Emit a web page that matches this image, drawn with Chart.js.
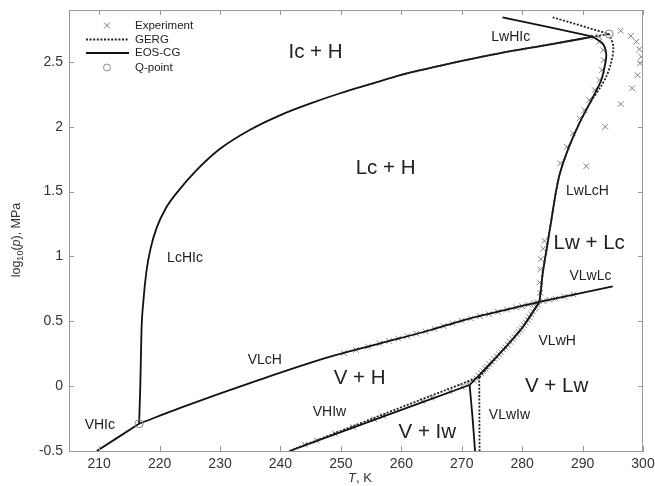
<!DOCTYPE html>
<html>
<head>
<meta charset="utf-8">
<script src="https://cdn.jsdelivr.net/npm/chart.js@4"></script>
<style>
  html, body { margin: 0; padding: 0; background: #fff; }
  #wrap { width: 655px; height: 486px; position: relative; }
</style>
</head>
<body>
<div id="wrap"><canvas id="phaseChart"></canvas></div>
<script>
// ---- axes ----
const xTicks = [210, 220, 230, 240, 250, 260, 270, 280, 290, 300];
const yTicks = [-0.5, 0, 0.5, 1, 1.5, 2, 2.5];

// ---- EOS-CG (solid) ----
const eosVHIcT = [209.6, 216.6];
const eosVHIcP = [-0.5, -0.29];
const eosLcHIcT = [216.6, 216.8, 217.0, 217.3, 217.8, 218.5, 219.5, 221.0, 223.0, 226.0, 230.0, 234.9, 240.0, 245.0, 250.0, 255.0, 260.0, 265.0, 270.0, 276.2, 284.0, 291.7];
const eosLcHIcP = [-0.29, 0.0, 0.43, 0.65, 0.88, 1.06, 1.22, 1.37, 1.50, 1.66, 1.83, 1.975, 2.09, 2.18, 2.26, 2.33, 2.40, 2.455, 2.507, 2.566, 2.63, 2.694];
const eosLwHIcT = [276.75, 291.7];
const eosLwHIcP = [2.844, 2.694];
const eosLwLcHT = [282.85, 283.1, 283.4, 284.1, 284.9, 285.6, 286.3, 287.8, 289.5, 291.4, 293.1, 293.8, 293.9, 293.3, 291.7];
const eosLwLcHP = [0.649, 0.74, 0.87, 1.07, 1.3, 1.5, 1.65, 1.85, 2.03, 2.2, 2.36, 2.5, 2.57, 2.643, 2.694];
const eosVLcHT = [216.6, 223.3, 236.6, 248.1, 256.4, 264.7, 270.2, 282.85];
const eosVLcHP = [-0.29, -0.17, 0.05, 0.225, 0.328, 0.431, 0.508, 0.649];
const eosVLwLcT = [282.85, 295.0];
const eosVLwLcP = [0.649, 0.77];
const eosVHIwT = [241.5, 256.4, 271.3];
const eosVHIwP = [-0.5, -0.245, 0.009];
const eosVLwHT = [271.3, 276.8, 280.1, 282.85];
const eosVLwHP = [0.009, 0.277, 0.456, 0.649];
const eosVLwIwT = [271.3, 271.8, 272.2];
const eosVLwIwP = [0.009, -0.25, -0.5];

// ---- GERG (dotted) ----
const gergLcHIcT = [260.0, 265.0, 270.0, 276.2, 284.0, 294.4];
const gergLcHIcP = [2.40, 2.455, 2.507, 2.566, 2.63, 2.715];
const gergLwHIcT = [285.05, 294.4];
const gergLwHIcP = [2.844, 2.715];
const gergLwLcHT = [282.85, 283.1, 283.4, 284.1, 284.9, 285.6, 286.3, 287.8, 289.5, 291.3, 293.0, 293.9, 294.7, 295.1, 294.4];
const gergLwLcHP = [0.649, 0.74, 0.87, 1.07, 1.3, 1.5, 1.65, 1.85, 2.03, 2.19, 2.308, 2.385, 2.489, 2.617, 2.715];
const gergVHIwT = [241.5, 256.4, 272.9];
const gergVHIwP = [-0.5, -0.228, 0.07];
const gergVLwHT = [272.9, 276.8, 280.1, 282.85];
const gergVLwHP = [0.07, 0.277, 0.456, 0.649];
const gergVLwIwT = [272.9, 272.95];
const gergVLwIwP = [0.07, -0.5];

// ---- Q-points ----
const qT = [216.6, 294.4];
const qP = [-0.29, 2.715];

// ---- Experiment ----
const expT = [
  244, 246, 249, 252, 255.5, 257, 263.5, 265, 268, 270, 271,
  250.5, 252.5, 254.5, 256.4, 258, 259.5, 261, 262.5, 264, 265.5, 267, 268.5, 270, 271.5, 273, 274.5, 276, 277.5, 279, 280, 281, 282, 282.5,
  272, 272.4, 272.8, 273.2, 273.5, 273.9, 274.2, 274.6, 275, 275.4, 275.8, 276.2, 276.5, 276.9, 277.2, 277.6, 278, 278.4, 278.7, 279.1, 279.4, 279.7, 280, 280.3, 280.6, 280.9, 281.2, 281.5, 281.8, 282.1, 282.3, 282.6,
  283.5, 284.5, 285.5, 287, 288.5,
  283.0, 282.9, 283.0, 283.1, 283.5, 283.7,
  286.3, 287.4, 288.4, 289.5, 290.3, 291.1, 292.0, 292.8, 293.2, 293.5, 293.4, 292.7, 291.9, 292.7,
  296.3, 298.0, 298.9, 299.4, 299.7, 299.5, 299.1, 298.2, 296.3, 293.75, 290.6
];
const expP = [
  -0.45, -0.42, -0.365, -0.315, -0.255, -0.23, -0.115, -0.09, -0.04, -0.005, 0.02,
  0.255, 0.28, 0.305, 0.33, 0.348, 0.367, 0.386, 0.404, 0.422, 0.442, 0.463, 0.484, 0.505, 0.522, 0.54, 0.556, 0.573, 0.59, 0.606, 0.617, 0.628, 0.64, 0.645,
  0.043, 0.06, 0.082, 0.1, 0.116, 0.135, 0.15, 0.17, 0.189, 0.21, 0.228, 0.245, 0.262, 0.282, 0.299, 0.32, 0.342, 0.363, 0.38, 0.402, 0.418, 0.434, 0.45, 0.47, 0.491, 0.512, 0.533, 0.554, 0.575, 0.596, 0.61, 0.63,
  0.655, 0.665, 0.675, 0.69, 0.705,
  0.72, 0.8, 0.9, 0.98, 1.06, 1.12,
  1.717, 1.845, 1.949, 2.064, 2.128, 2.206, 2.283, 2.36, 2.437, 2.514, 2.59, 2.655, 2.69, 2.695,
  2.74, 2.70, 2.656, 2.597, 2.54, 2.489, 2.398, 2.296, 2.175, 2.0, 1.696
];

// ---- annotations ----
const regionLabels = ['Ic + H', 'Lc + H', 'Lw + Lc', 'V + H', 'V + Lw', 'V + Iw'];
const regionT = [245.8, 257.4, 291.1, 253.1, 285.7, 264.3];
const regionP = [2.576, 1.68, 1.1, 0.06, 0.0, -0.36];
const lineLabels = ['LwHIc', 'LwLcH', 'LcHIc', 'VLwLc', 'VLwH', 'VLcH', 'VHIw', 'VLwIw', 'VHIc'];
const lineLabelT = [278.1, 290.8, 224.2, 291.3, 285.8, 237.4, 248.1, 277.9, 210.1];
const lineLabelP = [2.69, 1.5, 0.99, 0.85, 0.35, 0.2, -0.2, -0.22, -0.3];

const FONT = '"Liberation Sans", Arial, sans-serif';

function pts(T, P) {
    return T.map((t, i) => ({ x: t, y: P[i] }));
}

function solid(T, P, mode) {
    const ds = { data: pts(T, P), showLine: true, pointRadius: 0, borderColor: '#111', borderWidth: 1.8, tension: 0.3, order: 1 };
    if (mode) ds.cubicInterpolationMode = mode;
    return ds;
}

function dotted(T, P, mode) {
    const ds = { data: pts(T, P), showLine: true, pointRadius: 0, borderColor: '#222', borderWidth: 1.8, borderDash: [2, 1.6], tension: 0.3, order: 0 };
    if (mode) ds.cubicInterpolationMode = mode;
    return ds;
}

// Box, inward ticks, legend, labels and axis titles
const decorPlugin = {
    id: 'decor',
    afterDraw(chart) {
        const ctx = chart.ctx;
        const a = chart.chartArea;
        const xs = chart.scales.x, ys = chart.scales.y;
        ctx.save();
        ctx.strokeStyle = '#999';
        ctx.lineWidth = 1;
        ctx.beginPath();
        ctx.moveTo(a.left, a.top + 0.5); ctx.lineTo(a.right, a.top + 0.5);
        ctx.moveTo(a.right - 0.5, a.top); ctx.lineTo(a.right - 0.5, a.bottom);
        xTicks.forEach(v => {
            const px = Math.round(xs.getPixelForValue(v)) + 0.5;
            ctx.moveTo(px, a.bottom); ctx.lineTo(px, a.bottom - 5);
            ctx.moveTo(px, a.top); ctx.lineTo(px, a.top + 5);
        });
        yTicks.forEach(v => {
            const py = Math.round(ys.getPixelForValue(v)) + 0.5;
            ctx.moveTo(a.left, py); ctx.lineTo(a.left + 5, py);
            ctx.moveTo(a.right, py); ctx.lineTo(a.right - 5, py);
        });
        ctx.stroke();

        // legend
        ctx.fillStyle = '#222';
        ctx.font = '11.5px ' + FONT;
        ctx.textBaseline = 'middle';
        ctx.textAlign = 'left';
        const lx = 135;
        const items = ['Experiment', 'GERG', 'EOS-CG', 'Q-point'];
        const ly = [25.5, 39.5, 53, 67.5];
        items.forEach((t, i) => ctx.fillText(t, lx, ly[i]));
        ctx.strokeStyle = '#777';
        ctx.beginPath();
        ctx.moveTo(104, ly[0] - 3); ctx.lineTo(110, ly[0] + 3);
        ctx.moveTo(110, ly[0] - 3); ctx.lineTo(104, ly[0] + 3);
        ctx.stroke();
        ctx.strokeStyle = '#222';
        ctx.lineWidth = 1.8;
        ctx.setLineDash([2, 1.6]);
        ctx.beginPath(); ctx.moveTo(86, ly[1]); ctx.lineTo(129, ly[1]); ctx.stroke();
        ctx.setLineDash([]);
        ctx.strokeStyle = '#111';
        ctx.beginPath(); ctx.moveTo(86, ly[2]); ctx.lineTo(129, ly[2]); ctx.stroke();
        ctx.strokeStyle = '#888';
        ctx.lineWidth = 1;
        ctx.beginPath(); ctx.arc(107, ly[3], 3.5, 0, Math.PI * 2); ctx.stroke();

        // region labels
        ctx.fillStyle = '#222';
        ctx.textAlign = 'center';
        ctx.font = '20.5px ' + FONT;
        regionLabels.forEach((t, i) => {
            ctx.fillText(t, xs.getPixelForValue(regionT[i]), ys.getPixelForValue(regionP[i]));
        });
        ctx.font = '14px ' + FONT;
        lineLabels.forEach((t, i) => {
            ctx.fillText(t, xs.getPixelForValue(lineLabelT[i]), ys.getPixelForValue(lineLabelP[i]));
        });

        // axis titles
        ctx.fillStyle = '#333';
        ctx.font = 'italic 13px ' + FONT;
        ctx.textAlign = 'right';
        const tx = 357;
        ctx.fillText('T', tx - 1, 478);
        ctx.font = '13px ' + FONT;
        ctx.textAlign = 'left';
        ctx.fillText(', K', tx - 1, 478);

        ctx.translate(17, 240);
        ctx.rotate(-Math.PI / 2);
        const parts = [['log', '12.5px', 0], ['10', '9px', 4], ['(', '12.5px', 0], ['p', 'italic 12.5px', 0], ['), MPa', '12.5px', 0]];
        let w = 0;
        parts.forEach(p => { ctx.font = p[1] + ' ' + FONT; w += ctx.measureText(p[0]).width; });
        let cx = -w / 2;
        ctx.textAlign = 'left';
        parts.forEach(p => {
            ctx.font = p[1] + ' ' + FONT;
            ctx.fillText(p[0], cx, p[2]);
            cx += ctx.measureText(p[0]).width;
        });
        ctx.restore();
    }
};

new Chart(document.getElementById('phaseChart'), {
    type: 'scatter',
    data: {
        datasets: [
            { data: pts(qT, qP), pointStyle: 'circle', pointRadius: 4, borderColor: '#888', backgroundColor: 'rgba(0,0,0,0)', borderWidth: 1, order: -1 },
            solid(eosVHIcT, eosVHIcP),
            solid(eosLcHIcT, eosLcHIcP, 'monotone'),
            solid(eosLwHIcT, eosLwHIcP),
            solid(eosLwLcHT, eosLwLcHP),
            solid(eosVLcHT, eosVLcHP, 'monotone'),
            solid(eosVLwLcT, eosVLwLcP),
            solid(eosVHIwT, eosVHIwP),
            solid(eosVLwHT, eosVLwHP, 'monotone'),
            solid(eosVLwIwT, eosVLwIwP),
            dotted(gergLcHIcT, gergLcHIcP, 'monotone'),
            dotted(gergLwHIcT, gergLwHIcP),
            dotted(gergLwLcHT, gergLwLcHP),
            dotted(gergVHIwT, gergVHIwP),
            dotted(gergVLwHT, gergVLwHP, 'monotone'),
            dotted(gergVLwIwT, gergVLwIwP),
            { data: pts(expT, expP), pointStyle: 'crossRot', pointRadius: 4, borderColor: '#808080', borderWidth: 1, order: 5 }
        ]
    },
    options: {
        responsive: true,
        maintainAspectRatio: false,
        animation: false,
        layout: { padding: { top: 10, right: 12, left: 0, bottom: 0 } },
        plugins: {
            legend: { display: false },
            tooltip: { enabled: false }
        },
        scales: {
            x: {
                type: 'linear',
                min: 205,
                max: 300,
                afterBuildTicks: s => { s.ticks = xTicks.map(v => ({ value: v })); },
                afterFit: s => { s.height = 35; s.paddingLeft = 0; s.paddingRight = 0; },
                grid: { display: false, drawTicks: false },
                border: { display: true, color: '#999' },
                ticks: { color: '#333', font: { family: FONT, size: 14 }, padding: 5, maxRotation: 0 }
            },
            y: {
                type: 'linear',
                min: -0.5,
                max: 2.9,
                afterBuildTicks: s => { s.ticks = yTicks.map(v => ({ value: v })); },
                afterFit: s => { s.width = 69; s.paddingTop = 0; s.paddingBottom = 0; },
                grid: { display: false, drawTicks: false },
                border: { display: true, color: '#999' },
                ticks: { color: '#333', font: { family: FONT, size: 14 }, padding: 6, callback: v => String(v) }
            }
        }
    },
    plugins: [decorPlugin]
});
</script>
</body>
</html>
